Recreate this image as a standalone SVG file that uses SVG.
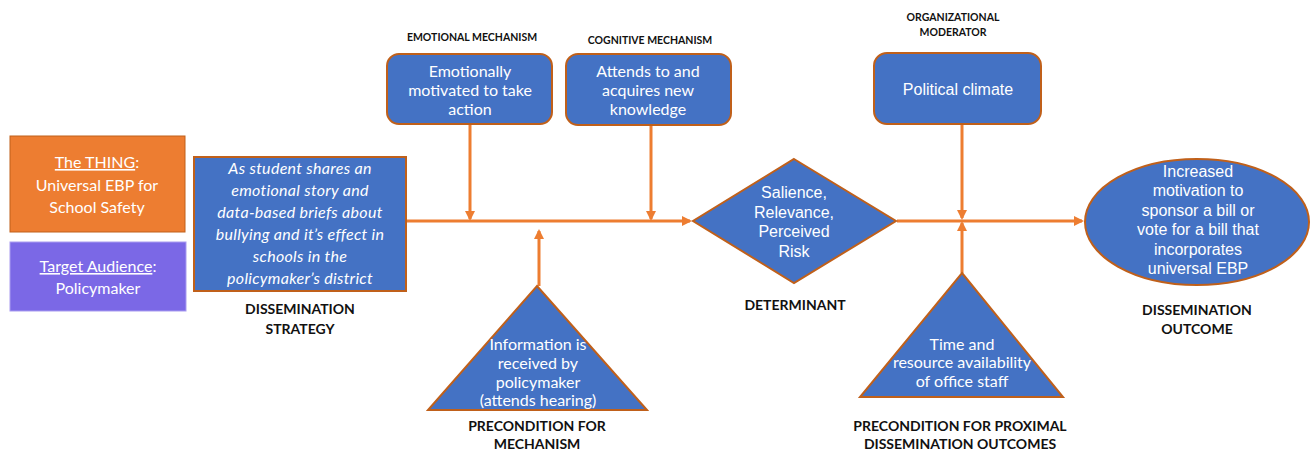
<svg xmlns="http://www.w3.org/2000/svg" width="1312" height="450" viewBox="0 0 1312 450">
<style>
.cal{font-family:Lato,"Open Sans","Liberation Sans",sans-serif;fill:#fff;font-size:16px;text-anchor:middle}
.ari{font-family:"Liberation Sans",Arial,sans-serif;fill:#fff;font-size:16px;text-anchor:middle}
.lbl{font-family:Lato,"Liberation Sans",sans-serif;font-weight:bold;fill:#111;font-size:14px;text-anchor:middle}
.sm{font-family:Lato,"Liberation Sans",sans-serif;font-weight:bold;fill:#111;font-size:10.5px;text-anchor:middle}
.blue{fill:#4472C4;stroke:#C0601A;stroke-width:2}
.con{stroke:#ED7D31;stroke-width:3;fill:none}
</style>
<defs>
<marker id="ah" markerWidth="10" markerHeight="10" refX="8" refY="5" orient="auto" markerUnits="userSpaceOnUse">
<path d="M0,0 L10,5 L0,10 z" fill="#ED7D31"/>
</marker>
</defs>
<g id="thing">
<rect x="10" y="136" width="175" height="96" fill="#ED7D31" stroke="#C0601A" stroke-width="1"/>
<g class="cal" font-size="17">
<text x="97" y="168"><tspan text-decoration="underline">The THING</tspan>:</text>
<text x="97" y="191">Universal EBP for</text>
<text x="97" y="213">School Safety</text>
</g>
</g>
<g id="audience">
<rect x="10" y="242" width="176" height="69" fill="#7B68E6" stroke="#A99CF0" stroke-width="1"/>
<g class="cal" font-size="17">
<text x="98" y="272"><tspan text-decoration="underline">Target Audience</tspan>:</text>
<text x="98" y="294">Policymaker</text>
</g>
</g>
<g id="connectors">
<line class="con" x1="406" y1="221" x2="690" y2="221" marker-end="url(#ah)"/>
<line class="con" x1="470" y1="125" x2="470" y2="219" marker-end="url(#ah)"/>
<line class="con" x1="651" y1="125" x2="651" y2="219" marker-end="url(#ah)"/>
<line class="con" x1="539" y1="286" x2="539" y2="231" marker-end="url(#ah)"/>
<line class="con" x1="897" y1="221" x2="1082" y2="221" marker-end="url(#ah)"/>
<line class="con" x1="962" y1="124" x2="962" y2="218" marker-end="url(#ah)"/>
<line class="con" x1="962" y1="273" x2="962" y2="223" marker-end="url(#ah)"/>
</g>
<g id="strategy">
<rect x="194" y="157" width="212" height="134" fill="#4472C4" stroke="#C0601A" stroke-width="2"/>
<g class="cal" font-style="italic" font-size="17.5" letter-spacing="0.3">
<text x="300" y="174">As student shares an</text>
<text x="300" y="196">emotional story and</text>
<text x="300" y="218">data-based briefs about</text>
<text x="300" y="240">bullying and it’s effect in</text>
<text x="300" y="262">schools in the</text>
<text x="300" y="284">policymaker’s district</text>
</g>
<text class="lbl" x="300" y="314">DISSEMINATION</text>
<text class="lbl" x="300" y="334">STRATEGY</text>
</g>
<g id="emotional">
<text class="sm" x="472" y="41">EMOTIONAL MECHANISM</text>
<rect class="blue" x="387" y="54" width="165" height="70" rx="12"/>
<g class="cal" font-size="15">
<text x="470" y="77">Emotionally</text>
<text x="470" y="96">motivated to take</text>
<text x="470" y="115">action</text>
</g>
</g>
<g id="cognitive">
<text class="sm" x="650" y="44">COGNITIVE MECHANISM</text>
<rect class="blue" x="566" y="54" width="165" height="71" rx="12"/>
<g class="cal" font-size="15">
<text x="648" y="77">Attends to and</text>
<text x="648" y="96">acquires new</text>
<text x="648" y="115">knowledge</text>
</g>
</g>
<g id="precondition-mechanism">
<polygon class="blue" points="537,286 647,410 428,410"/>
<g class="cal" font-size="15.5">
<text x="538" y="350">Information is</text>
<text x="538" y="369">received by</text>
<text x="538" y="388">policymaker</text>
<text x="538" y="406">(attends hearing)</text>
</g>
<text class="lbl" x="537" y="431">PRECONDITION FOR</text>
<text class="lbl" x="537" y="449">MECHANISM</text>
</g>
<g id="determinant">
<polygon class="blue" points="794,159 896,221 794,283 693,221"/>
<text class="ari" x="794" y="198">Salience,</text>
<text class="ari" x="794" y="218">Relevance,</text>
<text class="ari" x="794" y="237">Perceived</text>
<text class="ari" x="794" y="257">Risk</text>
<text class="lbl" x="795" y="310">DETERMINANT</text>
</g>
<g id="moderator">
<text class="sm" x="953" y="21">ORGANIZATIONAL</text>
<text class="sm" x="953" y="36">MODERATOR</text>
<rect class="blue" x="874" y="53" width="167" height="71" rx="13"/>
<text class="ari" x="958" y="95">Political climate</text>
</g>
<g id="precondition-proximal">
<polygon class="blue" points="962,273 1063,397 860,397"/>
<g class="cal" font-size="15.5">
<text x="962" y="350">Time and</text>
<text x="962" y="368">resource availability</text>
<text x="962" y="387">of office staff</text>
</g>
<text class="lbl" x="960" y="431">PRECONDITION FOR PROXIMAL</text>
<text class="lbl" x="960" y="449">DISSEMINATION OUTCOMES</text>
</g>
<g id="outcome">
<ellipse class="blue" cx="1197" cy="222" rx="112" ry="63"/>
<text class="ari" x="1198" y="177">Increased</text>
<text class="ari" x="1198" y="196">motivation to</text>
<text class="ari" x="1198" y="216">sponsor a bill or</text>
<text class="ari" x="1198" y="235">vote for a bill that</text>
<text class="ari" x="1198" y="255">incorporates</text>
<text class="ari" x="1198" y="274">universal EBP</text>
<text class="lbl" x="1197" y="315">DISSEMINATION</text>
<text class="lbl" x="1197" y="334">OUTCOME</text>
</g>
</svg>
